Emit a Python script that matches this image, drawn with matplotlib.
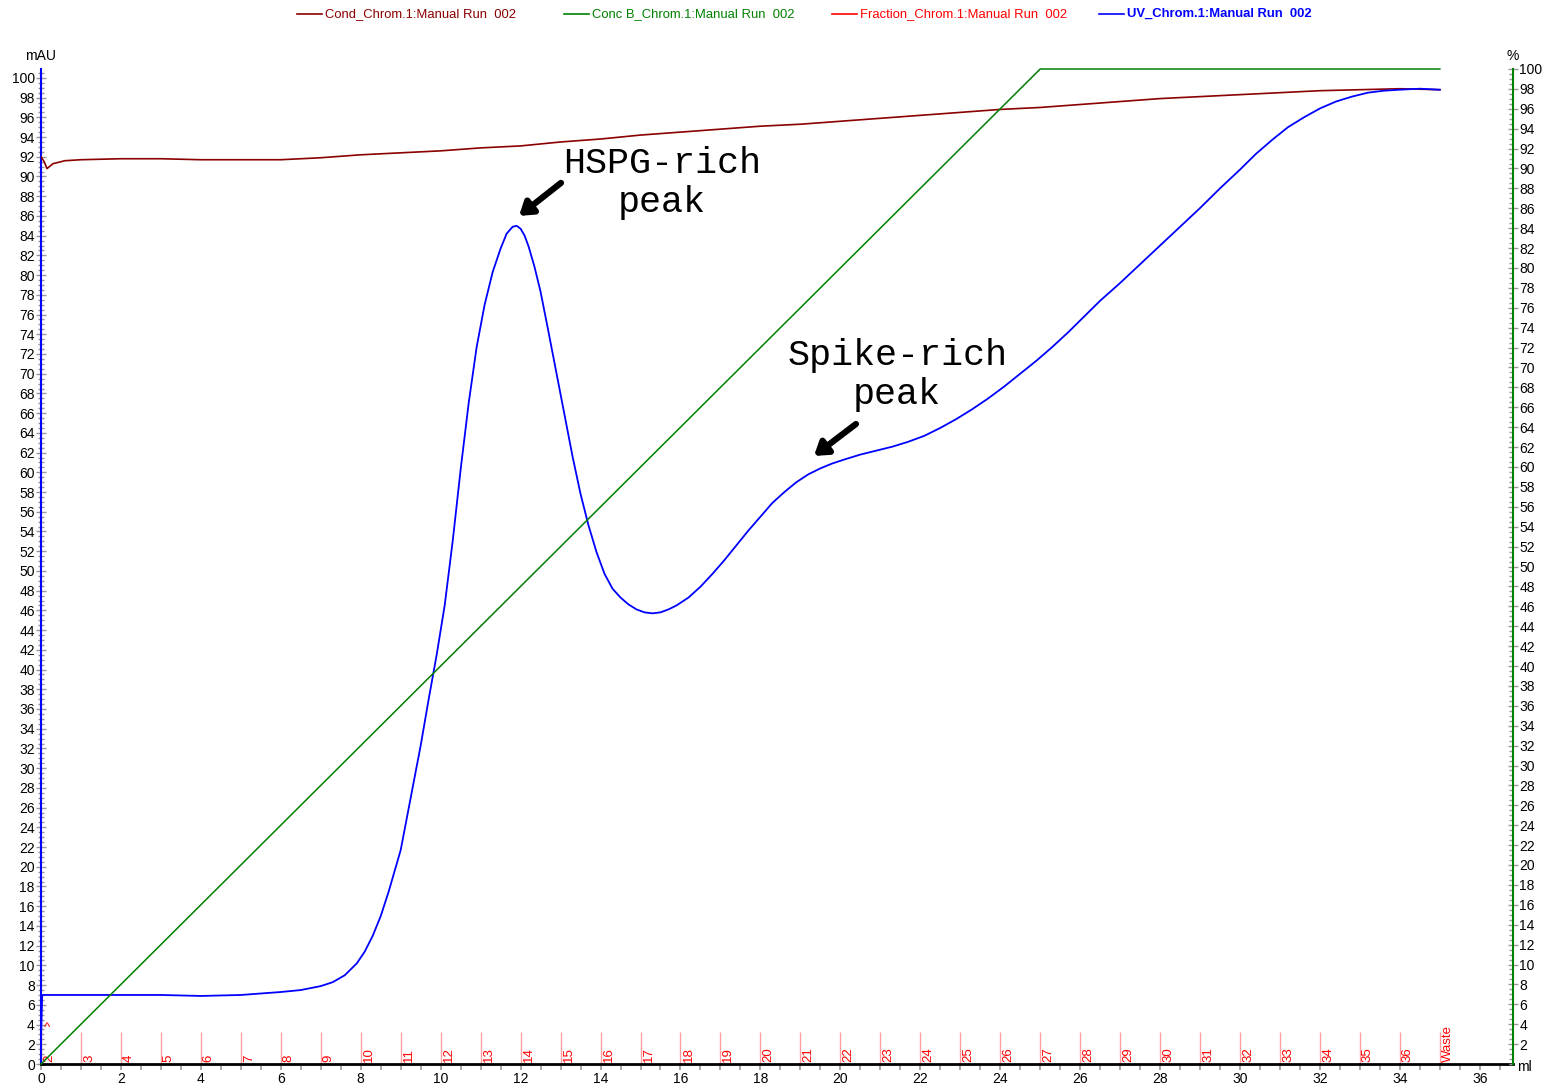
import matplotlib.pyplot as plt
from matplotlib.lines import Line2D
from matplotlib.ticker import MultipleLocator

# UV absorbance (mAU) vs elution volume (ml)
uv_ml = [0, 0.03, 1, 2, 3, 4, 5, 6, 6.5, 7.0, 7.3, 7.6, 7.9, 8.1, 8.3, 8.5, 8.7,
         8.9, 9.0, 9.25, 9.5, 9.7, 9.9, 10.1, 10.3, 10.5, 10.7, 10.9, 11.1, 11.3,
         11.5, 11.65, 11.8, 11.9, 12.0, 12.1, 12.2, 12.35, 12.5, 12.7, 12.9, 13.1,
         13.3, 13.5, 13.7, 13.9, 14.1, 14.3, 14.5, 14.7, 14.9, 15.1, 15.3, 15.5,
         15.7, 15.9, 16.2, 16.5, 16.8, 17.1, 17.4, 17.7, 18.0, 18.3, 18.6, 18.9,
         19.2, 19.5, 19.8, 20.1, 20.5, 20.9, 21.3, 21.7, 22.1, 22.5, 22.9, 23.3,
         23.7, 24.1, 24.5, 24.9, 25.3, 25.7, 26.1, 26.5, 27.0, 27.5, 28.0, 28.5,
         29.0, 29.5, 30.0, 30.4, 30.8, 31.2, 31.6, 32.0, 32.4, 32.8, 33.2, 33.6,
         34.0, 34.5, 35.0]
uv_mau = [2.5, 7.0, 7.0, 7.0, 7.0, 6.9, 7.0, 7.3, 7.5, 7.9, 8.3, 9.0, 10.2, 11.4,
          13.0, 15.0, 17.5, 20.3, 21.7, 27.0, 32.3, 37.0, 41.5, 46.5, 53.0, 60.3,
          67.0, 72.7, 77.0, 80.3, 82.7, 84.2, 84.9, 85.0, 84.7, 84.0, 82.9, 80.8,
          78.3, 74.2, 70.0, 65.8, 61.6, 57.8, 54.6, 51.9, 49.7, 48.2, 47.3, 46.6,
          46.1, 45.8, 45.7, 45.8, 46.1, 46.5, 47.3, 48.4, 49.7, 51.1, 52.6, 54.1,
          55.5, 56.9, 58.0, 59.0, 59.8, 60.4, 60.9, 61.3, 61.8, 62.2, 62.6, 63.1,
          63.7, 64.5, 65.4, 66.4, 67.5, 68.7, 70.0, 71.3, 72.7, 74.2, 75.8, 77.4,
          79.2, 81.1, 83.0, 84.9, 86.8, 88.8, 90.7, 92.3, 93.7, 95.0, 96.0, 96.9,
          97.6, 98.1, 98.5, 98.7, 98.8, 98.9, 98.8]

# conductivity trace
cond_ml = [0, 0.08, 0.15, 0.3, 0.6, 1, 2, 3, 4, 5, 6, 7, 8, 9, 10, 11, 12, 13,
           14, 15, 16, 17, 18, 19, 20, 21, 22, 23, 24, 25, 26, 27, 28, 29, 30,
           31, 32, 33, 34, 35]
cond_val = [92.0, 91.5, 90.8, 91.3, 91.6, 91.7, 91.8, 91.8, 91.7, 91.7, 91.7,
            91.9, 92.2, 92.4, 92.6, 92.9, 93.1, 93.5, 93.8, 94.2, 94.5, 94.8,
            95.1, 95.3, 95.6, 95.9, 96.2, 96.5, 96.8, 97.0, 97.3, 97.6, 97.9,
            98.1, 98.3, 98.5, 98.7, 98.8, 98.9, 98.8]

# gradient, % buffer B
concb_ml = [0, 25, 35]
concb_pct = [0, 100, 100]

# fraction marks
frac_ml = list(range(36))
frac_labels = [str(n) for n in range(2, 37)] + ["Waste"]

legend_names = ["Cond_Chrom.1:Manual Run  002", "Conc B_Chrom.1:Manual Run  002",
                "Fraction_Chrom.1:Manual Run  002", "UV_Chrom.1:Manual Run  002"]
legend_colors = ["#8b0000", "#008000", "#ff0000", "#0000ff"]

plt.rcParams['font.family'] = ['Liberation Sans', 'DejaVu Sans']
W, H = 1552, 1092
fig = plt.figure(figsize=(W / 100, H / 100), dpi=100)
ax = fig.add_axes([41 / W, (H - 1064) / H, (1513 - 41) / W, (1064 - 69) / H])
ax2 = ax.twinx()

ax.set_xlim(0, 36.83)
ax.set_ylim(0, 100.9)
ax2.set_ylim(0, 100.0)

ax.plot(cond_ml, cond_val, color="#8b0000", lw=1.2, zorder=3)
ax.plot(uv_ml, uv_mau, color="#0000ff", lw=1.3, zorder=4)
ax2.plot(concb_ml, concb_pct, color="#008000", lw=1.1, clip_on=False)

ax.vlines(frac_ml, 0, 3.25, color="#ff9f9f", lw=1, zorder=2)
for x, lab in zip(frac_ml, frac_labels):
    ax.text(x + 0.05, 0.2, lab, rotation=90, ha='left', va='bottom',
            color='red', fontsize=9.5)
ax.text(0.14, 3.6, "^", color='red', fontsize=9.5, ha='center', va='center')

# annotations
mono = dict(family='Liberation Mono', fontsize=26.5, ha='center', va='center',
            linespacing=1.15)
ax.text(15.54, 89.35, "HSPG-rich\npeak", **mono)
ax.text(21.42, 69.9, "Spike-rich\npeak", **mono)
arrow = dict(arrowstyle='-|>,head_length=0.75,head_width=0.5', color='black',
             lw=4.5, shrinkA=0, shrinkB=0)
ax.annotate("", xy=(11.96, 86.0), xytext=(13.01, 89.35), arrowprops=arrow)
ax.annotate("", xy=(19.34, 61.66), xytext=(20.39, 64.9), arrowprops=arrow)

# spines and ticks
for a in (ax, ax2):
    a.spines['top'].set_visible(False)
ax.spines['right'].set_visible(False)
ax2.spines['left'].set_visible(False)
ax2.spines['bottom'].set_visible(False)
ax.spines['left'].set_color('#0000ff')
ax.spines['left'].set_linewidth(1.5)
ax2.spines['right'].set_color('#008000')
ax2.spines['right'].set_linewidth(1.5)
ax.spines['bottom'].set_color('black')
ax.spines['bottom'].set_linewidth(2)

ax.xaxis.set_major_locator(MultipleLocator(2))
ax.xaxis.set_minor_locator(MultipleLocator(0.5))
ax.yaxis.set_minor_locator(MultipleLocator(0.5))
ax2.yaxis.set_minor_locator(MultipleLocator(0.5))

ax.tick_params(axis='x', which='both', direction='out', length=4, color='#999999',
               width=1.2, labelsize=10, pad=2)
ax.tick_params(axis='y', which='major', direction='inout', length=7, color='#999999',
               width=1, labelsize=10, pad=1)
ax.tick_params(axis='y', which='minor', direction='inout', length=4, color='#999999',
               width=1)
ax2.tick_params(axis='y', which='major', direction='inout', length=7, color='#999999',
                width=1, labelsize=10, pad=1)
ax2.tick_params(axis='y', which='minor', direction='in', length=3, color='#999999',
                width=1)
ax.set_yticks(range(0, 101, 2))
ax2.set_yticks(range(2, 101, 2))
ax.set_xticks(range(0, 37, 2))

fig.text(41 / W, 1 - 56 / H, "mAU", fontsize=10, ha='center', va='center')
fig.text(1513 / W, 1 - 56 / H, "%", fontsize=10, ha='center', va='center')
fig.text(1517 / W, 1 - 1067 / H, "ml", fontsize=10, ha='left', va='center')

# legend row along the top
for i, (name, col) in enumerate(zip(legend_names, legend_colors)):
    x0 = 297 + 267.3 * i
    y = 1 - 14 / H
    fig.add_artist(Line2D([x0 / W, (x0 + 25) / W], [y, y], color=col, lw=1.2,
                          transform=fig.transFigure))
    fig.text((x0 + 28) / W, y, name, color=col, fontsize=9.4, ha='left', va='center',
             fontweight='bold' if i == 3 else 'normal')

fig.savefig("out.png", dpi=100)
